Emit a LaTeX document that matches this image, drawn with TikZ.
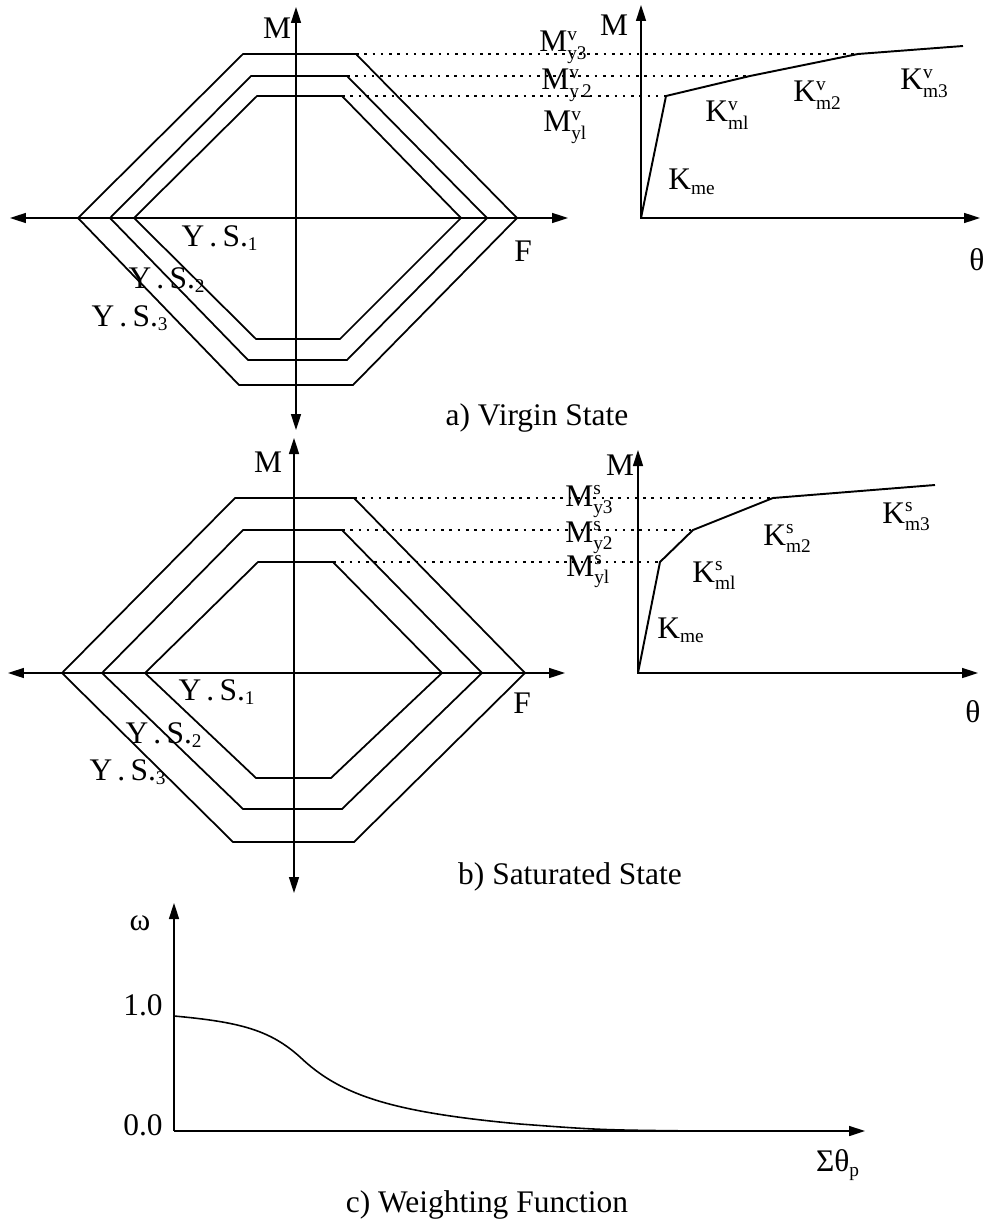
\documentclass[tikz,border=0pt]{standalone}
\usepackage{fontspec}
\setmainfont{Liberation Serif}
\usetikzlibrary{arrows.meta}

\DeclareMathSizes{17.9}{17.9}{11}{8}
\newcommand{\sym}[3]{#1$_{\mathrm{#2}}^{\mathrm{#3}}$}

\begin{document}
\begin{tikzpicture}[
    x=0.02cm, y=-0.02cm,
    font=\fontsize{17.9}{21}\selectfont,
    axis/.style={line width=0.9pt, -{Triangle[length=0.32cm, width=0.2cm]}},
    biaxis/.style={line width=0.9pt, {Triangle[length=0.32cm, width=0.2cm]}-{Triangle[length=0.32cm, width=0.2cm]}},
    surf/.style={line width=1pt, line join=miter},
    law/.style={line width=1.1pt, line join=round},
    guide/.style={line width=0.6pt, dash pattern=on 1.5pt off 3.2pt},
    lbl/.style={inner sep=0pt},
    kl/.style={inner sep=0pt, anchor=base west},
]
    \useasboundingbox (0,0) rectangle (983,1223);

    % a) Virgin state: yield surfaces
    \draw[surf] (78,218) -- (243,54) -- (356,54) coordinate (vy3) -- (517,218) -- (353,385) -- (239,385) -- cycle;
    \draw[surf] (110,218) -- (251,76) -- (347,76) coordinate (vy2) -- (487,218) -- (347,360) -- (248,360) -- cycle;
    \draw[surf] (134,218) -- (257,96) -- (342,96) coordinate (vy1) -- (461,218) -- (340,339) -- (256,339) -- cycle;
    \coordinate (vL) at (10,218);
    \coordinate (vR) at (568,218);
    \coordinate (vB) at (296,430);
    \coordinate (vT) at (296,7);
    \draw[biaxis] (vL) -- (vR);
    \draw[biaxis] (vB) -- (vT);
    \node[lbl] (vM) at (277,28) {M};
    \node[lbl] (vys1) at (220,238) {Y\,.\,S.$_{\mathrm{1}}$};
    \node[lbl] (vys2) at (167,280) {Y\,.\,S.$_{\mathrm{2}}$};
    \node[lbl] (vys3) at (130,318) {Y\,.\,S.$_{\mathrm{3}}$};
    \node[lbl] (vF) at (523,251) {F};

    % a) Virgin state: moment-rotation law
    \coordinate (vo) at (641,218);
    \draw[biaxis] (641,5) -- (vo) -- (980,218);
    \draw[law] (vo) -- (666,96) coordinate (vk1) -- (750,76) coordinate (vk2) -- (858,54) coordinate (vk3) -- (963,46);
    \draw[guide] (vy3) -- (vk3);
    \draw[guide] (vy2) -- (vk2);
    \draw[guide] (vy1) -- (vk1);
    \node[kl] (vmy3) at (539,52) {\sym{M}{y3}{v}};
    \node[kl] (vmy2) at (541,90) {\sym{M}{y\,2}{v}};
    \node[kl] (vmy1) at (543,132) {\sym{M}{yl}{v}};
    \node[lbl] (vM2) at (614,25) {M};
    \node[kl] (vkme) at (668,190) {K$_{\mathrm{me}}$};
    \node[kl] (vkm1) at (705,122) {\sym{K}{ml}{v}};
    \node[kl] (vkm2) at (793,102) {\sym{K}{m2}{v}};
    \node[kl] (vkm3) at (900,90) {\sym{K}{m3}{v}};
    \node[lbl] (vth) at (977,260) {θ};
    \node[lbl] (vcap) at (537,418) {a) Virgin State};

    % b) Saturated state: yield surfaces
    \draw[surf] (62,673) -- (235,498) -- (354,498) coordinate (sy3) -- (525,673) -- (354,842) -- (233,842) -- cycle;
    \draw[surf] (102,673) -- (243,530) -- (342,530) coordinate (sy2) -- (482,673) -- (342,809) -- (243,809) -- cycle;
    \draw[surf] (145,673) -- (258,562) -- (333,562) coordinate (sy1) -- (442,673) -- (331,778) -- (256,778) -- cycle;
    \coordinate (sL) at (8,673);
    \coordinate (sR) at (565,673);
    \coordinate (sB) at (294,893);
    \coordinate (sT) at (294,438);
    \draw[biaxis] (sL) -- (sR);
    \draw[biaxis] (sB) -- (sT);
    \node[lbl] (sM) at (268,462) {M};
    \node[lbl] (sys1) at (217,692) {Y\,.\,S.$_{\mathrm{1}}$};
    \node[lbl] (sys2) at (164,735) {Y\,.\,S.$_{\mathrm{2}}$};
    \node[lbl] (sys3) at (128,772) {Y\,.\,S.$_{\mathrm{3}}$};
    \node[lbl] (sF) at (522,703) {F};

    % b) Saturated state: moment-rotation law
    \coordinate (so) at (638,673);
    \draw[biaxis] (638,450) -- (so) -- (978,673);
    \draw[law] (so) -- (660,562) coordinate (sk1) -- (693,530) coordinate (sk2) -- (773,498) coordinate (sk3) -- (935,485);
    \draw[guide] (sy3) -- (sk3);
    \draw[guide] (sy2) -- (sk2);
    \draw[guide] (sy1) -- (sk1);
    \node[kl] (smy3) at (565,506) {\sym{M}{y3}{s}};
    \node[kl] (smy2) at (565,542) {\sym{M}{y2}{s}};
    \node[kl] (smy1) at (566,576) {\sym{M}{yl}{s}};
    \node[lbl] (sM2) at (620,465) {M};
    \node[kl] (skme) at (657,638) {K$_{\mathrm{me}}$};
    \node[kl] (skm1) at (692,582) {\sym{K}{ml}{s}};
    \node[kl] (skm2) at (763,545) {\sym{K}{m2}{s}};
    \node[kl] (skm3) at (882,523) {\sym{K}{m3}{s}};
    \node[lbl] (sth) at (973,712) {θ};
    \node[lbl] (scap) at (570,877) {b) Saturated State};

    % c) Weighting function
    \coordinate (wo) at (174,1131);
    \draw[axis] (wo) -- (174,903);
    \draw[axis] (wo) -- (865,1131);
    \draw[law, line width=0.9pt] (174,1016) .. controls (240,1022) and (270,1030) .. (300,1057)
        .. controls (340,1095) and (390,1112) .. (520,1124)
        .. controls (600,1130) .. (700,1131);
    \node[lbl] (wom) at (140,923) {ω};
    \node[lbl, anchor=east] (w1) at (163,1005) {1.0};
    \node[lbl, anchor=east] (w0) at (163,1125) {0.0};
    \node[lbl] (wsum) at (838,1165) {Σθ$_{\mathrm{p}}$};
    \node[lbl] (wcap) at (487,1205) {c) Weighting Function};

\end{tikzpicture}
\end{document}
